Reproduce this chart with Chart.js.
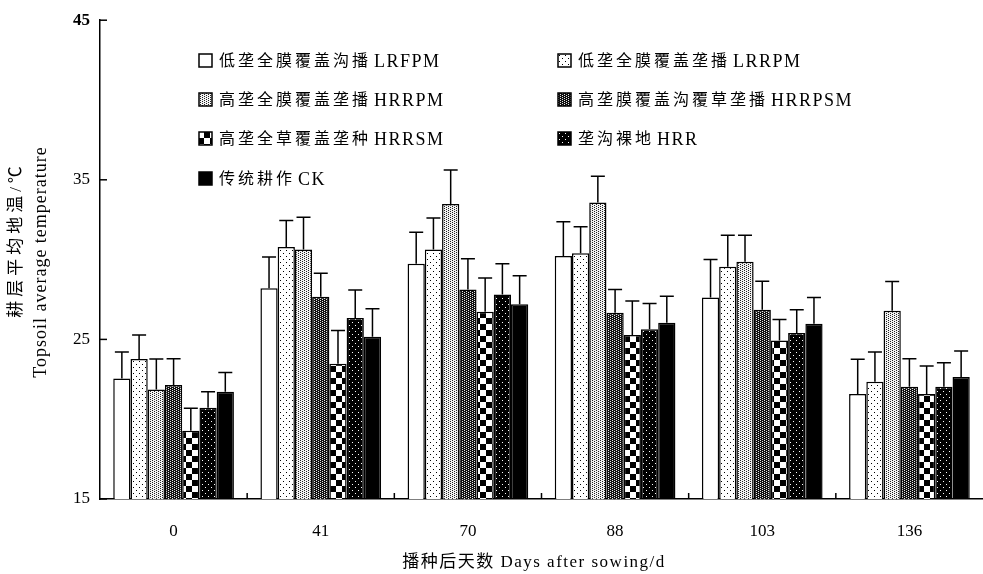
<!DOCTYPE html>
<html>
<head>
<meta charset="utf-8">
<script src="https://cdn.jsdelivr.net/npm/chart.js@4"></script>
<style>
  html, body { margin: 0; padding: 0; background: #fff; overflow: hidden; }
  #c { display: block; }
</style>
</head>
<body>
<canvas id="c" width="983" height="574"></canvas>
<script>
// Days after sowing (categories)
const days = ['0', '41', '70', '88', '103', '136'];

// Topsoil average temperature (°C) per treatment, with standard deviations
const lrfpm     = [22.55, 28.20, 29.74, 30.23, 27.62, 21.58];
const lrfpmErr  = [1.66, 1.97, 1.97, 2.14, 2.39, 2.18];
const lrrpm     = [23.77, 30.79, 30.63, 30.40, 29.55, 22.34];
const lrrpmErr  = [1.51, 1.66, 1.97, 1.66, 1.97, 1.87];
const hrrpm     = [21.86, 30.63, 33.49, 33.58, 29.86, 26.80];
const hrrpmErr  = [1.91, 2.03, 2.12, 1.64, 1.66, 1.82];
const hrrpsm    = [22.14, 27.68, 28.12, 26.67, 26.85, 22.03];
const hrrpsmErr = [1.64, 1.46, 1.93, 1.45, 1.80, 1.76];
const hrrsm     = [19.27, 23.48, 26.73, 25.28, 24.93, 21.58];
const hrrsmErr  = [1.41, 2.07, 2.12, 2.12, 1.31, 1.76];
const hrr       = [20.72, 26.34, 27.81, 25.63, 25.40, 22.03];
const hrrErr    = [1.00, 1.76, 1.93, 1.62, 1.45, 1.51];
const ck        = [21.72, 25.16, 27.21, 26.05, 25.98, 22.65];
const ckErr     = [1.20, 1.76, 1.78, 1.66, 1.64, 1.62];

// Treatment names: Chinese part and English code
const seriesCn = [
  '低垄全膜覆盖沟播',
  '低垄全膜覆盖垄播',
  '高垄全膜覆盖垄播',
  '高垄膜覆盖沟覆草垄播',
  '高垄全草覆盖垄种',
  '垄沟裸地',
  '传统耕作'
];
const seriesEn = ['LRFPM', 'LRRPM', 'HRRPM', 'HRRPSM', 'HRRSM', 'HRR', 'CK'];

const yTicks = [15, 25, 35, 45];
const xTitle = '播种后天数 Days after sowing/d';
const yTitleCn = '耕层平均地温/℃';
const yTitleEn = 'Topsoil average temperature';

const canvas = document.getElementById('c');
const ctx = canvas.getContext('2d');
const FONT = '"Liberation Serif", "Times New Roman", "Noto Sans CJK SC", serif';

// Monochrome fill textures
function tile(w, h, draw) {
  const t = document.createElement('canvas');
  t.width = w; t.height = h;
  const g = t.getContext('2d');
  draw(g);
  return ctx.createPattern(t, 'repeat');
}
const fills = [
  '#ffffff',
  tile(6, 6, g => { g.fillStyle = '#fff'; g.fillRect(0, 0, 6, 6); g.fillStyle = '#000'; g.fillRect(1, 1, 1, 1); g.fillRect(4, 4, 1, 1); }),
  tile(4, 2, g => { g.fillStyle = '#f2f2f2'; g.fillRect(0, 0, 4, 2); g.fillStyle = '#222'; g.fillRect(0, 0, 1, 1); g.fillRect(2, 1, 1, 1); }),
  tile(4, 2, g => { g.fillStyle = '#111'; g.fillRect(0, 0, 4, 2); g.fillStyle = '#e8e8e8'; g.fillRect(0, 0, 1, 1); g.fillRect(2, 1, 1, 1); }),
  tile(12, 12, g => { g.fillStyle = '#fff'; g.fillRect(0, 0, 12, 12); g.fillStyle = '#000'; g.fillRect(0, 0, 6, 6); g.fillRect(6, 6, 6, 6); }),
  tile(6, 6, g => { g.fillStyle = '#000'; g.fillRect(0, 0, 6, 6); g.fillStyle = '#fff'; g.fillRect(1, 1, 1, 1); g.fillRect(4, 4, 1, 1); }),
  '#000000'
];

const values = [lrfpm, lrrpm, hrrpm, hrrpsm, hrrsm, hrr, ck];
const errors = [lrfpmErr, lrrpmErr, hrrpmErr, hrrpsmErr, hrrsmErr, hrrErr, ckErr];

const datasets = values.map((v, i) => ({
  label: seriesCn[i] + ' ' + seriesEn[i],
  data: v,
  errors: errors[i],
  backgroundColor: fills[i],
  borderColor: '#000',
  borderWidth: 1.5,
  borderSkipped: 'bottom',
  barPercentage: 1.0,
  categoryPercentage: 0.82
}));

// Error bars, inward tick marks, legend and axis titles
const decorations = {
  id: 'decorations',
  afterDatasetsDraw(chart) {
    const c = chart.ctx;
    const xs = chart.scales.x, ys = chart.scales.y;
    const area = chart.chartArea;
    c.save();
    c.strokeStyle = '#000';
    c.lineWidth = 1.5;
    // error bars (upper half only)
    chart.data.datasets.forEach((ds, di) => {
      const meta = chart.getDatasetMeta(di);
      meta.data.forEach((bar, j) => {
        const top = ys.getPixelForValue(ds.data[j] + ds.errors[j]);
        const x = bar.x;
        c.beginPath();
        c.moveTo(x, bar.y);
        c.lineTo(x, top);
        c.moveTo(x - 7, top);
        c.lineTo(x + 7, top);
        c.stroke();
      });
    });
    // y-axis tick marks pointing into the plot
    yTicks.forEach(v => {
      const y = ys.getPixelForValue(v);
      c.beginPath();
      c.moveTo(area.left, y);
      c.lineTo(area.left + 7, y);
      c.stroke();
    });
    // x-axis tick marks between groups
    for (let i = 1; i < days.length; i++) {
      const x = (xs.getPixelForValue(i - 1) + xs.getPixelForValue(i)) / 2;
      c.beginPath();
      c.moveTo(x, area.bottom);
      c.lineTo(x, area.bottom - 6);
      c.stroke();
    }
    // legend, two columns
    const colX = [199, 558];
    const rowY = [61, 100, 139, 179];
    c.textBaseline = 'middle';
    c.textAlign = 'left';
    seriesCn.forEach((cn, i) => {
      const x = colX[i % 2], y = rowY[Math.floor(i / 2)];
      c.fillStyle = fills[i];
      c.fillRect(x, y - 7, 13, 13);
      c.lineWidth = 1.5;
      c.strokeRect(x, y - 7, 13, 13);
      c.fillStyle = '#000';
      c.font = '16px ' + FONT;
      c.letterSpacing = '3px';
      c.fillText(cn, x + 20, y + 1);
      const w = c.measureText(cn).width;
      c.font = '18px ' + FONT;
      c.letterSpacing = '1.5px';
      c.fillText(seriesEn[i], x + 20 + w + 3, y + 1);
    });
    // x title
    c.font = '17px ' + FONT;
    c.textAlign = 'center';
    c.letterSpacing = '1.5px';
    c.fillText(xTitle, 534, 563);
    // y titles (rotated)
    c.save();
    c.translate(17, 240);
    c.rotate(-Math.PI / 2);
    c.letterSpacing = '4px';
    c.fillText(yTitleCn, 0, 0);
    c.restore();
    c.save();
    c.translate(41, 262);
    c.rotate(-Math.PI / 2);
    c.font = '18px ' + FONT;
    c.letterSpacing = '1px';
    c.fillText(yTitleEn, 0, 0);
    c.restore();
    c.restore();
  }
};

new Chart(canvas, {
  type: 'bar',
  data: { labels: days, datasets },
  options: {
    responsive: false,
    animation: false,
    devicePixelRatio: 1,
    layout: { padding: { top: 17, left: 0, right: 0, bottom: 0 } },
    plugins: { legend: { display: false }, tooltip: { enabled: false } },
    scales: {
      x: {
        grid: { display: false, drawTicks: false },
        border: { display: true, color: '#000', width: 1.5 },
        ticks: { color: '#000', font: { family: FONT, size: 17 }, padding: 22, maxRotation: 0 },
        afterFit(s) { s.height = 75; }
      },
      y: {
        min: 15, max: 45,
        afterBuildTicks(s) { s.ticks = yTicks.map(v => ({ value: v })); },
        grid: { display: false, drawTicks: false },
        border: { display: true, color: '#000', width: 1.5 },
        ticks: {
          color: '#000', padding: 10,
          font: c => ({ family: FONT, size: 17, weight: (c.tick && c.tick.value === 45) ? 'bold' : 'normal' })
        },
        afterFit(s) { s.width = 100; }
      }
    }
  },
  plugins: [decorations]
});
</script>
</body>
</html>
